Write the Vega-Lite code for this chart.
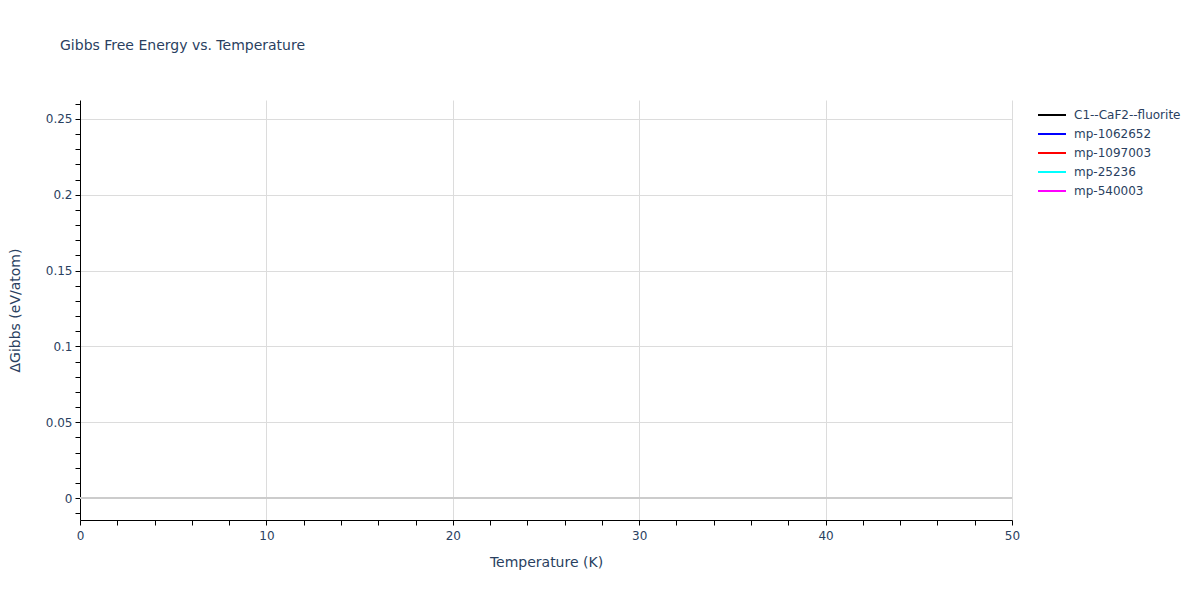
{
  "$schema": "https://vega.github.io/schema/vega-lite/v6.json",
  "autosize": "none",
  "width": 932,
  "height": 420,
  "padding": {"left": 80, "top": 100, "right": 188, "bottom": 80},
  "background": "white",
  "config": {
    "font": "DejaVu Sans",
    "view": {"stroke": null},
    "axis": {"labelFont": "DejaVu Sans", "titleFont": "DejaVu Sans", "labelColor": "#2a3f5f", "titleColor": "#2a3f5f", "labelFontSize": 12, "titleFontSize": 14, "titleFontWeight": "normal", "domainColor": "#000000", "tickColor": "#000000", "tickSize": 5, "gridColor": "#dcdcdc", "gridWidth": 1, "labelOverlap": false, "tickCount": 100}
  },
  "title": {"text": "Gibbs Free Energy vs. Temperature", "anchor": "start", "frame": "group", "dx": -20, "offset": 45, "fontSize": 14, "fontWeight": "normal", "color": "#2a3f5f", "font": "DejaVu Sans"},
  "data": {"values": [
    {"material": "C1--CaF2--fluorite", "T": null, "G": null},
    {"material": "mp-1062652", "T": null, "G": null},
    {"material": "mp-1097003", "T": null, "G": null},
    {"material": "mp-25236", "T": null, "G": null},
    {"material": "mp-540003", "T": null, "G": null}
  ]},
  "layer": [
    {
      "mark": {"type": "rule", "color": "#cccccc", "strokeWidth": 2},
      "encoding": {
        "y": {"datum": 0, "type": "quantitative", "scale": {"domain": [-0.0145, 0.2625], "nice": false, "zero": false}}
      }
    },
    {
      "mark": {"type": "line", "strokeWidth": 2, "clip": true},
      "encoding": {
        "x": {"field": "T", "type": "quantitative", "title": "Temperature (K)",
          "scale": {"domain": [0, 50], "nice": false},
          "axis": {"values": [0,2,4,6,8,10,12,14,16,18,20,22,24,26,28,30,32,34,36,38,40,42,44,46,48,50],
            "tickCount": 100, "format": "d", "grid": true,
            "labelExpr": "datum.value % 10 === 0 ? datum.label : ''",
            "gridOpacity": {"condition": {"test": "datum.value % 10 === 0 && datum.value > 0", "value": 1}, "value": 0},
            "labelPadding": 5, "titlePadding": 14, "labelFlush": false}},
        "y": {"field": "G", "type": "quantitative", "title": "ΔGibbs (eV/atom)",
          "scale": {"domain": [-0.0145, 0.2625], "nice": false, "zero": false},
          "axis": {"values": [-0.01,0,0.01,0.02,0.03,0.04,0.05,0.06,0.07,0.08,0.09,0.1,0.11,0.12,0.13,0.14,0.15,0.16,0.17,0.18,0.19,0.2,0.21,0.22,0.23,0.24,0.25,0.26],
            "tickCount": 100, "grid": true,
            "labelExpr": "round(datum.value*100) % 5 === 0 ? datum.label : ''",
            "format": "~g",
            "gridOpacity": {"condition": {"test": "round(datum.value*100) % 5 === 0", "value": 1}, "value": 0},
            "labelPadding": 3, "titlePadding": 23, "labelFlush": false}},
        "color": {"field": "material", "type": "nominal",
          "scale": {"domain": ["C1--CaF2--fluorite", "mp-1062652", "mp-1097003", "mp-25236", "mp-540003"], "range": ["#000000", "#0000ff", "#ff0000", "#00ffff", "#ff00ff"]},
          "legend": {"title": null, "orient": "none", "legendX": 961, "legendY": 4, "symbolType": "M-1.4,0H1.4", "symbolSize": 400, "symbolStrokeWidth": 2, "labelFontSize": 12, "labelColor": "#2a3f5f", "labelFont": "DejaVu Sans", "rowPadding": 2, "padding": 0, "labelOffset": 11}}
      }
    }
  ]
}
